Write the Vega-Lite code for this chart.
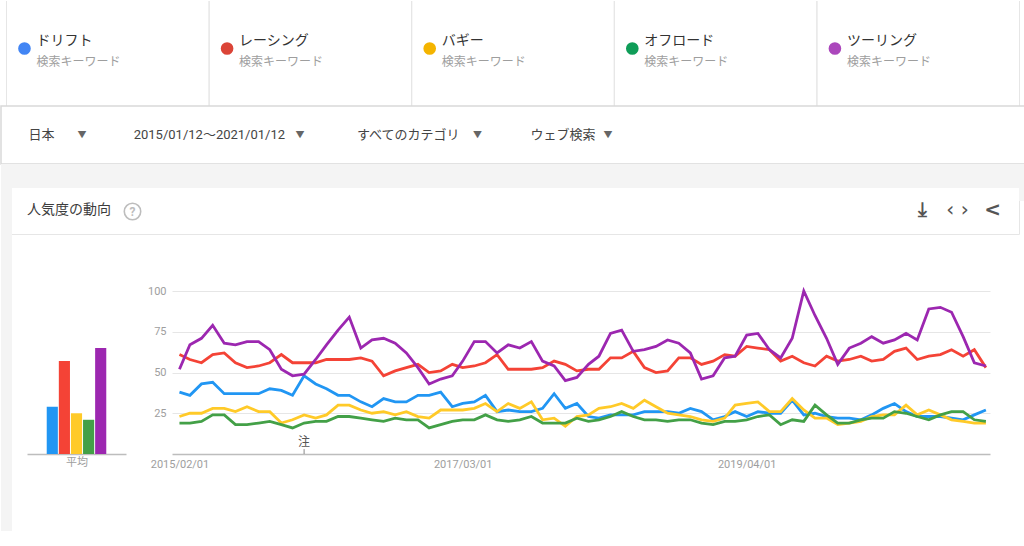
{
  "$schema": "https://vega.github.io/schema/vega-lite/v6.json",
  "background": "white",
  "padding": 0,
  "spacing": 0,
  "bounds": "flush",
  "config": {
    "font": "Roboto, 'Noto Sans CJK JP', sans-serif",
    "view": {"stroke": null},
    "concat": {"spacing": 0}
  },
  "datasets": {
    "avg": [
      {"term": "ドリフト", "avg": 29},
      {"term": "レーシング", "avg": 57},
      {"term": "バギー", "avg": 25},
      {"term": "オフロード", "avg": 21},
      {"term": "ツーリング", "avg": 65}
    ],
    "notes": [{"date": "2016-01-01", "note": "注"}],
    "trend": [
      {"date": "2015-02-01", "ドリフト": 38, "レーシング": 61, "バギー": 23, "オフロード": 19, "ツーリング": 52},
      {"date": "2015-03-01", "ドリフト": 36, "レーシング": 58, "バギー": 25, "オフロード": 19, "ツーリング": 67},
      {"date": "2015-04-01", "ドリフト": 43, "レーシング": 56, "バギー": 25, "オフロード": 20, "ツーリング": 71},
      {"date": "2015-05-01", "ドリフト": 44, "レーシング": 61, "バギー": 28, "オフロード": 24, "ツーリング": 79},
      {"date": "2015-06-01", "ドリフト": 37, "レーシング": 62, "バギー": 28, "オフロード": 24, "ツーリング": 68},
      {"date": "2015-07-01", "ドリフト": 37, "レーシング": 56, "バギー": 26, "オフロード": 18, "ツーリング": 67},
      {"date": "2015-08-01", "ドリフト": 37, "レーシング": 53, "バギー": 29, "オフロード": 18, "ツーリング": 69},
      {"date": "2015-09-01", "ドリフト": 37, "レーシング": 54, "バギー": 26, "オフロード": 19, "ツーリング": 69},
      {"date": "2015-10-01", "ドリフト": 40, "レーシング": 56, "バギー": 26, "オフロード": 20, "ツーリング": 64},
      {"date": "2015-11-01", "ドリフト": 39, "レーシング": 61, "バギー": 19, "オフロード": 18, "ツーリング": 52},
      {"date": "2015-12-01", "ドリフト": 36, "レーシング": 56, "バギー": 21, "オフロード": 16, "ツーリング": 48},
      {"date": "2016-01-01", "ドリフト": 48, "レーシング": 56, "バギー": 24, "オフロード": 19, "ツーリング": 49},
      {"date": "2016-02-01", "ドリフト": 43, "レーシング": 56, "バギー": 22, "オフロード": 20, "ツーリング": 58},
      {"date": "2016-03-01", "ドリフト": 40, "レーシング": 58, "バギー": 24, "オフロード": 20, "ツーリング": 67},
      {"date": "2016-04-01", "ドリフト": 36, "レーシング": 58, "バギー": 30, "オフロード": 23, "ツーリング": 76},
      {"date": "2016-05-01", "ドリフト": 36, "レーシング": 58, "バギー": 30, "オフロード": 23, "ツーリング": 84},
      {"date": "2016-06-01", "ドリフト": 32, "レーシング": 59, "バギー": 27, "オフロード": 22, "ツーリング": 65},
      {"date": "2016-07-01", "ドリフト": 29, "レーシング": 57, "バギー": 25, "オフロード": 21, "ツーリング": 70},
      {"date": "2016-08-01", "ドリフト": 34, "レーシング": 48, "バギー": 26, "オフロード": 20, "ツーリング": 71},
      {"date": "2016-09-01", "ドリフト": 32, "レーシング": 51, "バギー": 24, "オフロード": 22, "ツーリング": 68},
      {"date": "2016-10-01", "ドリフト": 32, "レーシング": 53, "バギー": 26, "オフロード": 21, "ツーリング": 62},
      {"date": "2016-11-01", "ドリフト": 36, "レーシング": 55, "バギー": 23, "オフロード": 21, "ツーリング": 53},
      {"date": "2016-12-01", "ドリフト": 36, "レーシング": 50, "バギー": 22, "オフロード": 16, "ツーリング": 43},
      {"date": "2017-01-01", "ドリフト": 38, "レーシング": 51, "バギー": 27, "オフロード": 18, "ツーリング": 46},
      {"date": "2017-02-01", "ドリフト": 29, "レーシング": 55, "バギー": 27, "オフロード": 20, "ツーリング": 48},
      {"date": "2017-03-01", "ドリフト": 31, "レーシング": 53, "バギー": 27, "オフロード": 21, "ツーリング": 57},
      {"date": "2017-04-01", "ドリフト": 32, "レーシング": 54, "バギー": 28, "オフロード": 21, "ツーリング": 69},
      {"date": "2017-05-01", "ドリフト": 36, "レーシング": 56, "バギー": 31, "オフロード": 24, "ツーリング": 69},
      {"date": "2017-06-01", "ドリフト": 26, "レーシング": 61, "バギー": 26, "オフロード": 21, "ツーリング": 62},
      {"date": "2017-07-01", "ドリフト": 27, "レーシング": 52, "バギー": 31, "オフロード": 20, "ツーリング": 67},
      {"date": "2017-08-01", "ドリフト": 26, "レーシング": 52, "バギー": 28, "オフロード": 21, "ツーリング": 65},
      {"date": "2017-09-01", "ドリフト": 26, "レーシング": 52, "バギー": 32, "オフロード": 23, "ツーリング": 69},
      {"date": "2017-10-01", "ドリフト": 28, "レーシング": 53, "バギー": 21, "オフロード": 19, "ツーリング": 57},
      {"date": "2017-11-01", "ドリフト": 37, "レーシング": 57, "バギー": 22, "オフロード": 19, "ツーリング": 54},
      {"date": "2017-12-01", "ドリフト": 28, "レーシング": 55, "バギー": 17, "オフロード": 19, "ツーリング": 45},
      {"date": "2018-01-01", "ドリフト": 31, "レーシング": 51, "バギー": 23, "オフロード": 22, "ツーリング": 47},
      {"date": "2018-02-01", "ドリフト": 23, "レーシング": 52, "バギー": 24, "オフロード": 20, "ツーリング": 55},
      {"date": "2018-03-01", "ドリフト": 22, "レーシング": 52, "バギー": 28, "オフロード": 21, "ツーリング": 60},
      {"date": "2018-04-01", "ドリフト": 24, "レーシング": 59, "バギー": 29, "オフロード": 23, "ツーリング": 74},
      {"date": "2018-05-01", "ドリフト": 24, "レーシング": 59, "バギー": 31, "オフロード": 26, "ツーリング": 76},
      {"date": "2018-06-01", "ドリフト": 24, "レーシング": 63, "バギー": 28, "オフロード": 23, "ツーリング": 63},
      {"date": "2018-07-01", "ドリフト": 26, "レーシング": 53, "バギー": 33, "オフロード": 21, "ツーリング": 64},
      {"date": "2018-08-01", "ドリフト": 26, "レーシング": 50, "バギー": 29, "オフロード": 21, "ツーリング": 66},
      {"date": "2018-09-01", "ドリフト": 26, "レーシング": 51, "バギー": 25, "オフロード": 20, "ツーリング": 70},
      {"date": "2018-10-01", "ドリフト": 25, "レーシング": 59, "バギー": 24, "オフロード": 21, "ツーリング": 68},
      {"date": "2018-11-01", "ドリフト": 28, "レーシング": 59, "バギー": 23, "オフロード": 21, "ツーリング": 62},
      {"date": "2018-12-01", "ドリフト": 26, "レーシング": 55, "バギー": 21, "オフロード": 19, "ツーリング": 46},
      {"date": "2019-01-01", "ドリフト": 21, "レーシング": 57, "バギー": 20, "オフロード": 18, "ツーリング": 48},
      {"date": "2019-02-01", "ドリフト": 23, "レーシング": 61, "バギー": 22, "オフロード": 20, "ツーリング": 59},
      {"date": "2019-03-01", "ドリフト": 26, "レーシング": 60, "バギー": 30, "オフロード": 20, "ツーリング": 60},
      {"date": "2019-04-01", "ドリフト": 23, "レーシング": 66, "バギー": 31, "オフロード": 21, "ツーリング": 73},
      {"date": "2019-05-01", "ドリフト": 26, "レーシング": 65, "バギー": 32, "オフロード": 23, "ツーリング": 74},
      {"date": "2019-06-01", "ドリフト": 25, "レーシング": 64, "バギー": 26, "オフロード": 24, "ツーリング": 64},
      {"date": "2019-07-01", "ドリフト": 25, "レーシング": 57, "バギー": 26, "オフロード": 18, "ツーリング": 59},
      {"date": "2019-08-01", "ドリフト": 33, "レーシング": 60, "バギー": 34, "オフロード": 21, "ツーリング": 71},
      {"date": "2019-09-01", "ドリフト": 24, "レーシング": 56, "バギー": 27, "オフロード": 20, "ツーリング": 100},
      {"date": "2019-10-01", "ドリフト": 25, "レーシング": 54, "バギー": 22, "オフロード": 30, "ツーリング": 85},
      {"date": "2019-11-01", "ドリフト": 23, "レーシング": 60, "バギー": 22, "オフロード": 24, "ツーリング": 71},
      {"date": "2019-12-01", "ドリフト": 22, "レーシング": 57, "バギー": 18, "オフロード": 19, "ツーリング": 55},
      {"date": "2020-01-01", "ドリフト": 22, "レーシング": 58, "バギー": 19, "オフロード": 19, "ツーリング": 65},
      {"date": "2020-02-01", "ドリフト": 21, "レーシング": 60, "バギー": 20, "オフロード": 21, "ツーリング": 68},
      {"date": "2020-03-01", "ドリフト": 24, "レーシング": 57, "バギー": 23, "オフロード": 22, "ツーリング": 72},
      {"date": "2020-04-01", "ドリフト": 28, "レーシング": 58, "バギー": 24, "オフロード": 22, "ツーリング": 68},
      {"date": "2020-05-01", "ドリフト": 31, "レーシング": 63, "バギー": 24, "オフロード": 26, "ツーリング": 70},
      {"date": "2020-06-01", "ドリフト": 26, "レーシング": 65, "バギー": 30, "オフロード": 25, "ツーリング": 74},
      {"date": "2020-07-01", "ドリフト": 23, "レーシング": 58, "バギー": 24, "オフロード": 23, "ツーリング": 70},
      {"date": "2020-08-01", "ドリフト": 23, "レーシング": 60, "バギー": 27, "オフロード": 21, "ツーリング": 89},
      {"date": "2020-09-01", "ドリフト": 23, "レーシング": 61, "バギー": 24, "オフロード": 24, "ツーリング": 90},
      {"date": "2020-10-01", "ドリフト": 22, "レーシング": 64, "バギー": 21, "オフロード": 26, "ツーリング": 87},
      {"date": "2020-11-01", "ドリフト": 21, "レーシング": 60, "バギー": 20, "オフロード": 26, "ツーリング": 72},
      {"date": "2020-12-01", "ドリフト": 24, "レーシング": 64, "バギー": 19, "オフロード": 21, "ツーリング": 56},
      {"date": "2021-01-01", "ドリフト": 27, "レーシング": 53, "バギー": 19, "オフロード": 20, "ツーリング": 54}
    ]
  },
  "resolve": {"scale": {"color": "independent", "x": "independent", "y": "independent"}},
  "vconcat": [
    {
      "width": 1024,
      "height": 105,
      "view": {"fill": "white"},
      "data": {"name": "avg"},
      "encoding": {
        "x": {
          "field": "term", "type": "nominal", "sort": null, "bandPosition": 0,
          "scale": {"paddingInner": 0, "paddingOuter": 0.027},
          "axis": null
        }
      },
      "layer": [
        {"mark": {"type": "rule", "color": "#e6e6e6"}, "encoding": {}},
        {
          "mark": {"type": "rule", "color": "#e6e6e6"},
          "encoding": {"x": {"field": "term", "type": "nominal", "sort": null, "bandPosition": 1}}
        },
        {
          "mark": {"type": "point", "shape": "circle", "filled": true, "opacity": 1, "size": 160, "xOffset": 18, "yOffset": -5},
          "encoding": {
            "color": {
              "field": "term", "type": "nominal",
              "scale": {
                "domain": ["ドリフト", "レーシング", "バギー", "オフロード", "ツーリング"],
                "range": ["#4285f4", "#db4437", "#f4b400", "#0f9d58", "#ab47bc"]
              },
              "legend": null
            }
          }
        },
        {
          "mark": {"type": "text", "align": "left", "dx": 30, "dy": -12.5, "fontSize": 14, "color": "#333"},
          "encoding": {"text": {"field": "term"}}
        },
        {
          "mark": {"type": "text", "align": "left", "dx": 30, "dy": 8.5, "fontSize": 12, "color": "#9e9e9e"},
          "encoding": {"text": {"value": "検索キーワード"}}
        }
      ]
    },
    {
      "width": 1024,
      "height": 58,
      "view": {"fill": "white", "stroke": "#d9d9d9", "strokeWidth": 1.5},
      "data": {"values": [{}]},
      "layer": [
        {"mark": {"type": "text", "align": "left", "dx": -484.5, "fontSize": 13, "color": "#444"}, "encoding": {"text": {"value": "日本"}}},
        {"mark": {"type": "text", "align": "center", "dx": -431, "fontSize": 9, "color": "#666"}, "encoding": {"text": {"value": "▼"}}},
        {"mark": {"type": "text", "align": "left", "dx": -379.3, "fontSize": 13, "color": "#444"}, "encoding": {"text": {"value": "2015/01/12～2021/01/12"}}},
        {"mark": {"type": "text", "align": "center", "dx": -213, "fontSize": 9, "color": "#666"}, "encoding": {"text": {"value": "▼"}}},
        {"mark": {"type": "text", "align": "left", "dx": -156, "fontSize": 13, "color": "#444"}, "encoding": {"text": {"value": "すべてのカテゴリ"}}},
        {"mark": {"type": "text", "align": "center", "dx": -35.5, "fontSize": 9, "color": "#666"}, "encoding": {"text": {"value": "▼"}}},
        {"mark": {"type": "text", "align": "left", "dx": 17.4, "fontSize": 13, "color": "#444"}, "encoding": {"text": {"value": "ウェブ検索"}}},
        {"mark": {"type": "text", "align": "center", "dx": 95, "fontSize": 9, "color": "#666"}, "encoding": {"text": {"value": "▼"}}}
      ]
    },
    {
      "width": 1024,
      "height": 21,
      "view": {"fill": "#f4f4f4"},
      "data": {"values": []},
      "mark": "rect"
    },
    {
      "bounds": "flush",
      "hconcat": [
        {"width": 5, "height": 346, "view": {"fill": "#f4f4f4"}, "data": {"values": []}, "mark": "rect"},
        {
          "bounds": "flush",
          "vconcat": [
            {
              "width": 1013,
              "height": 49,
              "view": {"fill": "white", "stroke": "#e6e6e6"},
              "data": {"values": [{}]},
              "layer": [
                {"mark": {"type": "text", "align": "left", "dx": -485.5, "fontSize": 14, "color": "#3c3c3c"}, "encoding": {"text": {"value": "人気度の動向"}}},
                {"mark": {"type": "point", "shape": "circle", "size": 270, "strokeWidth": 1.6, "color": "#bdbdbd", "opacity": 1, "xOffset": -380, "yOffset": 2}, "encoding": {}},
                {"mark": {"type": "text", "align": "center", "dx": -380, "dy": 2, "fontSize": 12, "fontWeight": "bold", "color": "#bdbdbd"}, "encoding": {"text": {"value": "?"}}},
                {"mark": {"type": "text", "align": "center", "dx": 410, "fontSize": 20, "fontWeight": "bold", "color": "#555", "font": "DejaVu Sans"}, "encoding": {"text": {"value": "⤓"}}},
                {"mark": {"type": "text", "align": "center", "dx": 445, "fontSize": 20, "color": "#555", "font": "DejaVu Sans"}, "encoding": {"text": {"value": "‹ ›"}}},
                {"mark": {"type": "text", "align": "center", "dx": 480, "fontSize": 20, "fontWeight": "bold", "color": "#555", "font": "DejaVu Sans"}, "encoding": {"text": {"value": "<"}}}
              ]
            },
            {
              "bounds": "flush",
              "hconcat": [
                {"width": 21, "height": 220, "data": {"values": []}, "mark": "rect"},
                {
                  "width": 99,
                  "height": 220,
                  "data": {"name": "avg"},
                  "mark": {"type": "bar"},
                  "encoding": {
                    "x": {
                      "field": "term", "type": "nominal",
                      "scale": {
                        "domain": ["_l", "ドリフト", "レーシング", "バギー", "オフロード", "ツーリング", "_r"],
                        "paddingInner": 0.08, "paddingOuter": 0.63
                      },
                      "axis": {
                        "labels": false, "ticks": false, "domainColor": "#bdbdbd", "domainWidth": 1.5,
                        "title": "平均", "titleFontWeight": "normal", "titleFontSize": 11,
                        "titleColor": "#9e9e9e", "titlePadding": 2
                      }
                    },
                    "y": {"field": "avg", "type": "quantitative", "scale": {"domain": [0, 135], "nice": false}, "axis": null},
                    "color": {
                      "field": "term", "type": "nominal",
                      "scale": {
                        "domain": ["ドリフト", "レーシング", "バギー", "オフロード", "ツーリング"],
                        "range": ["#2196f3", "#f44336", "#ffca28", "#43a047", "#9c27b0"]
                      },
                      "legend": null
                    }
                  }
                },
                {"width": 46, "height": 220, "data": {"values": []}, "mark": "rect"},
                {
                  "width": 818,
                  "height": 220,
                  "layer": [
                    {
                      "data": {"name": "trend"},
                      "transform": [
                        {"fold": ["ドリフト", "レーシング", "バギー", "オフロード", "ツーリング"], "as": ["term", "value"]}
                      ],
                      "mark": {"type": "line", "strokeWidth": 2.8},
                      "encoding": {
                        "x": {
                          "field": "date", "type": "temporal",
                          "scale": {
                            "type": "utc",
                            "domain": [
                              {"year": 2015, "month": 1, "date": 12, "utc": true},
                              {"year": 2021, "month": 1, "date": 12, "utc": true}
                            ]
                          },
                          "axis": {
                            "values": [
                              {"year": 2015, "month": 2, "date": 1, "utc": true},
                              {"year": 2017, "month": 3, "date": 1, "utc": true},
                              {"year": 2019, "month": 4, "date": 1, "utc": true}
                            ],
                            "format": "%Y/%m/%d",
                            "grid": false, "ticks": false, "labelFlush": false,
                            "domainColor": "#bdbdbd", "domainWidth": 1.5,
                            "labelPadding": 4, "labelColor": "#9e9e9e", "labelFontSize": 11,
                            "title": null
                          }
                        },
                        "y": {
                          "field": "value", "type": "quantitative",
                          "scale": {"domain": [0, 135], "nice": false},
                          "axis": {
                            "values": [25, 50, 75, 100],
                            "domain": false, "ticks": false,
                            "labelPadding": 6, "labelColor": "#9e9e9e", "labelFontSize": 11,
                            "gridColor": "#e6e6e6", "title": null
                          }
                        },
                        "color": {
                          "field": "term", "type": "nominal",
                          "scale": {
                            "domain": ["ドリフト", "レーシング", "バギー", "オフロード", "ツーリング"],
                            "range": ["#2196f3", "#f44336", "#ffca28", "#43a047", "#9c27b0"]
                          },
                          "legend": null
                        }
                      }
                    },
                    {
                      "data": {"name": "notes"},
                      "mark": {"type": "rule", "color": "#888", "strokeWidth": 1},
                      "encoding": {
                        "x": {"field": "date", "type": "temporal"},
                        "y": {"datum": 0},
                        "y2": {"datum": 3}
                      }
                    },
                    {
                      "data": {"name": "notes"},
                      "mark": {"type": "text", "baseline": "bottom", "fontSize": 12, "color": "#555"},
                      "encoding": {
                        "x": {"field": "date", "type": "temporal"},
                        "y": {"datum": 3},
                        "text": {"field": "note"}
                      }
                    }
                  ]
                },
                {"width": 29, "height": 220, "data": {"values": []}, "mark": "rect"}
              ]
            },
            {"width": 1013, "height": 77, "data": {"values": []}, "mark": "rect"}
          ]
        },
        {"width": 6, "height": 346, "view": {"fill": "#f4f4f4"}, "data": {"values": []}, "mark": "rect"}
      ]
    },
    {"width": 1024, "height": 3, "view": {"fill": "#f4f4f4"}, "data": {"values": []}, "mark": "rect"},
    {
      "bounds": "flush",
      "hconcat": [
        {"width": 7, "height": 13, "view": {"fill": "#f4f4f4"}, "data": {"values": []}, "mark": "rect"},
        {"width": 1011, "height": 13, "data": {"values": []}, "mark": "rect"},
        {"width": 6, "height": 13, "view": {"fill": "#f4f4f4"}, "data": {"values": []}, "mark": "rect"}
      ]
    }
  ]
}
